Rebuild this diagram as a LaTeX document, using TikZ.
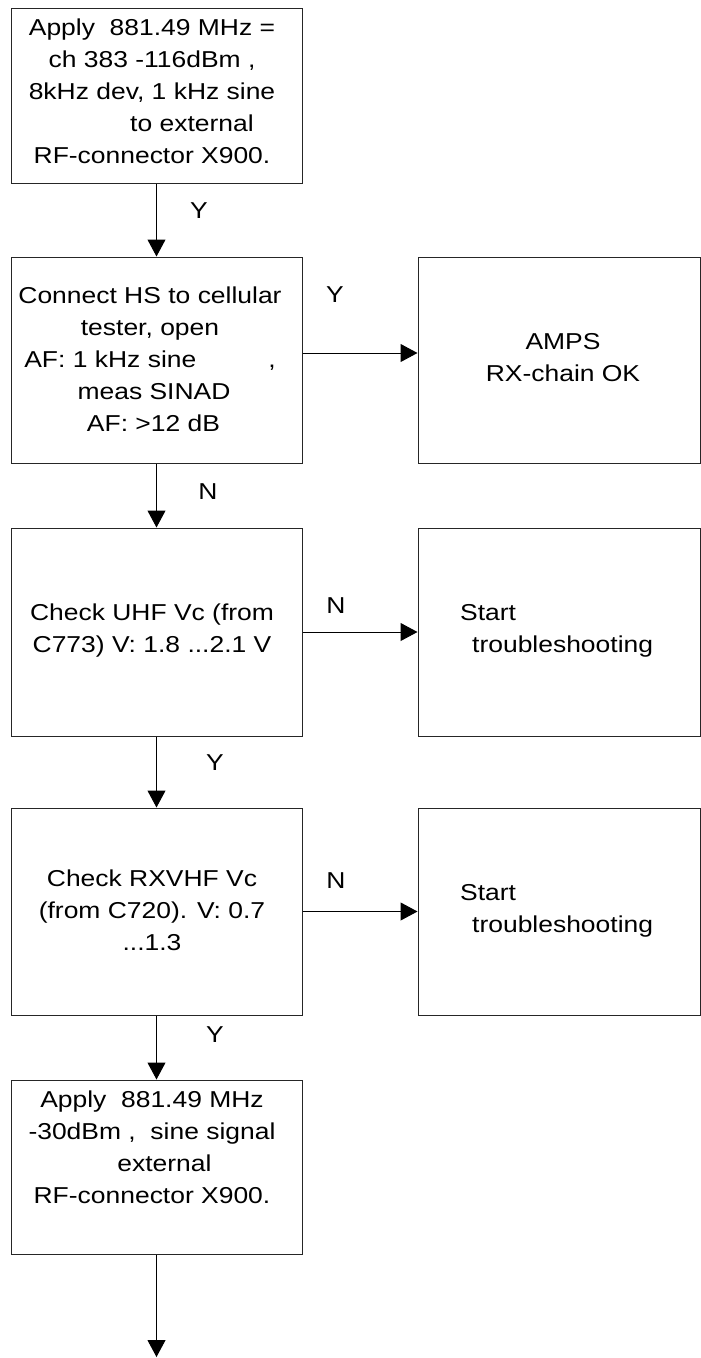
\documentclass[tikz,border=0pt]{standalone}
\usepackage{fontspec}
\setmainfont[FakeStretch=1.15]{Liberation Sans}
\usetikzlibrary{arrows.meta}
\begin{document}
\begin{tikzpicture}[x=1pt,y=-1pt,
  box/.style={draw=black!85,line width=1pt,rectangle,inner sep=0pt},
  lbox/.style={box,minimum width=291pt},
  rbox/.style={box,minimum width=282pt},
  txt/.style={font=\fontsize{23}{32}\selectfont,align=center,inner sep=0pt},
  ltxt/.style={font=\fontsize{23}{32}\selectfont,align=left,inner sep=0pt,anchor=west},
  lab/.style={font=\fontsize{23}{28}\selectfont,inner sep=0pt},
  arr/.style={draw=black,line width=1pt,-{Triangle[width=18pt,length=17pt]}}]
\useasboundingbox (0,0) rectangle (701,1358);
\fill[white] (0,0) rectangle (701,1358);

% left column boxes
\node[lbox,minimum height=175pt] (b1) at (156.5,95.5) {};
\node[lbox,minimum height=206pt] (b2) at (156.5,360) {};
\node[lbox,minimum height=208pt] (b3) at (156.5,632) {};
\node[lbox,minimum height=207pt] (b4) at (156.5,911.5) {};
\node[lbox,minimum height=174pt] (b5) at (156.5,1167) {};
% right column boxes
\node[rbox,minimum height=206pt] (r2) at (559,360) {};
\node[rbox,minimum height=208pt] (r3) at (559,632) {};
\node[rbox,minimum height=207pt] (r4) at (559,911.5) {};

% texts
\node[txt] (t1) at (152,91.5) {Apply\ \ 881.49 MHz =\\ch 383 -116dBm ,\\8kHz dev, 1 kHz sine\\\hspace*{80pt}to external\\RF-connector X900.};
\node[txt] (t2) at (150,359) {Connect HS to cellular\\tester, open\hspace*{74pt}\\AF: 1 kHz sine\hspace{72pt},\\\hspace*{8pt}meas SINAD\\\hspace*{7pt}AF: >12 dB};
\node[txt] (t3) at (152,631) {Check UHF Vc (from\\C773) V: 1.8 ...2.1 V};
\node[txt] (t4) at (152,910) {Check RXVHF Vc\\(from C720). V: 0.7\\...1.3};
\node[txt] (t5) at (152,1147.5) {Apply\ \ 881.49 MHz\\-30dBm ,\ \ sine signal\\\hspace*{25pt}external\\RF-connector X900.};
\node[txt] (tr2) at (563,357.5) {AMPS\\RX-chain OK};
\node[ltxt] (tr3) at (460,631) {Start\\\hspace*{12pt}troubleshooting};
\node[ltxt] (tr4) at (460,910.5) {Start\\\hspace*{12pt}troubleshooting};

% connectors
\coordinate (end) at (156.5,1357);
\draw[arr] (b1.south) -- (b2.north);
\draw[arr] (b2.south) -- (b3.north);
\draw[arr] (b3.south) -- (b4.north);
\draw[arr] (b4.south) -- (b5.north);
\draw[arr] (b5.south) -- (end);
\draw[arr] ([yshift=7pt]b2.east) -- ([yshift=7pt]r2.west);
\draw[arr] (b3.east) -- (r3.west);
\draw[arr] (b4.east) -- (r4.west);

% labels
\node[lab] (l1) at (199,211) {Y};
\node[lab] (l2) at (208,492) {N};
\node[lab] (l3) at (215,763) {Y};
\node[lab] (l4) at (215,1035) {Y};
\node[lab] (l5) at (335,295) {Y};
\node[lab] (l6) at (336,606) {N};
\node[lab] (l7) at (336,881) {N};
\end{tikzpicture}
\end{document}
